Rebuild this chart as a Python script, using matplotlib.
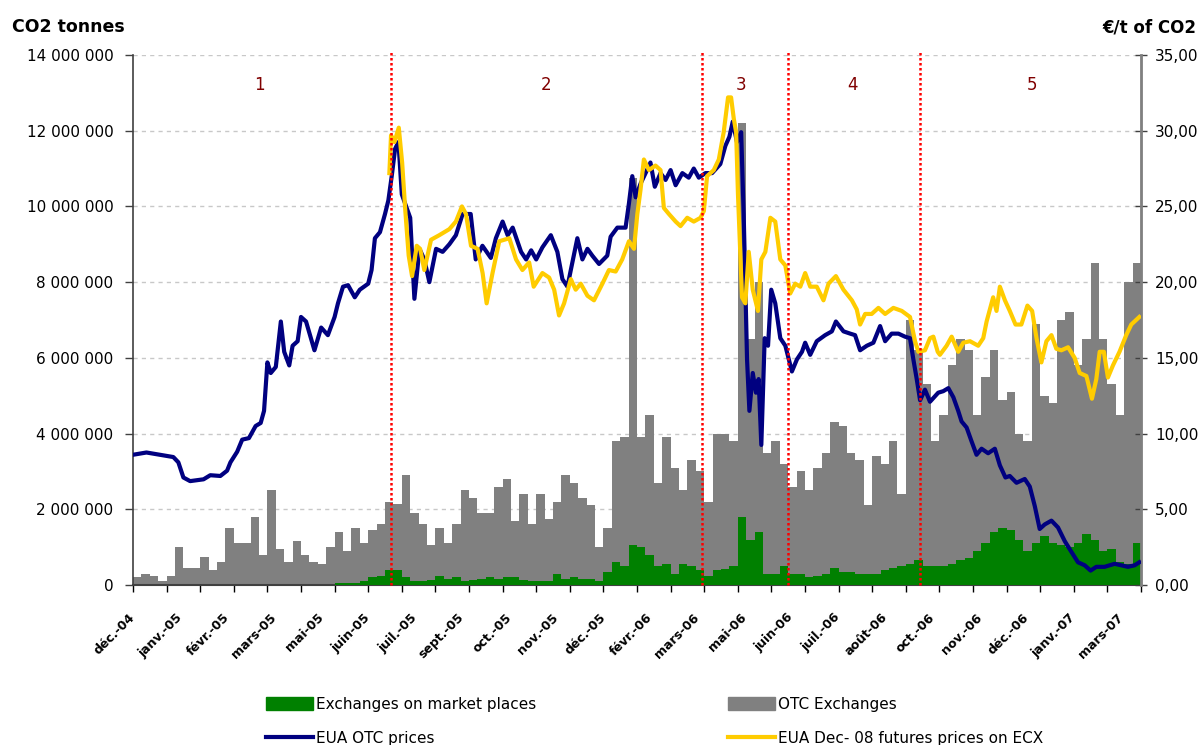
import numpy as np
import matplotlib
matplotlib.use("Agg")
import matplotlib.pyplot as plt
from matplotlib.patches import Patch
from matplotlib.lines import Line2D
from matplotlib.ticker import FuncFormatter, FixedLocator, MultipleLocator

# ---------------- data ----------------
# x axis: trading-day index (0 .. 600), Dec 2004 -> Mar 2007
n_days = 600
bin_days = 5  # weekly volume bins

# OTC exchanges, million tonnes per weekly bin
otc_volume_mt = [
    0.2, 0.3, 0.25, 0.1, 0.25, 1.0, 0.45, 0.45, 0.75, 0.4,
    0.6, 1.5, 1.1, 1.1, 1.8, 0.8, 2.5, 0.95, 0.6, 1.15,
    0.8, 0.6, 0.55, 1.0, 1.4, 0.9, 1.5, 1.1, 1.45, 1.6,
    2.2, 2.15, 2.9, 1.9, 1.6, 1.05, 1.5, 1.1, 1.6, 2.5,
    2.3, 1.9, 1.9, 2.6, 2.8, 1.7, 2.4, 1.6, 2.4, 1.75,
    2.2, 2.9, 2.7, 2.3, 2.1, 1.0, 1.5, 3.8, 3.9, 10.75,
    3.9, 4.5, 2.7, 3.9, 3.1, 2.5, 3.3, 3.0, 2.2, 4.0,
    4.0, 3.8, 12.2, 6.5, 8.0, 3.5, 3.8, 3.2, 2.6, 3.0,
    2.5, 3.1, 3.5, 4.3, 4.2, 3.5, 3.3, 2.1, 3.4, 3.2,
    3.8, 2.4, 7.0, 6.2, 5.3, 3.8, 4.5, 5.8, 6.5, 6.2,
    4.5, 5.5, 6.2, 4.9, 5.1, 4.0, 3.8, 6.9, 5.0, 4.8,
    7.0, 7.2, 5.8, 6.5, 8.5, 6.5, 5.3, 4.5, 8.0, 8.5,
]

# Exchanges on market places, million tonnes per weekly bin
market_volume_mt = [
    0, 0, 0, 0, 0, 0, 0, 0, 0, 0,
    0, 0, 0, 0, 0, 0, 0, 0, 0, 0,
    0, 0, 0, 0, 0.05, 0.05, 0.05, 0.1, 0.2, 0.25,
    0.4, 0.4, 0.2, 0.1, 0.1, 0.12, 0.25, 0.15, 0.2, 0.1,
    0.12, 0.15, 0.2, 0.15, 0.2, 0.2, 0.12, 0.1, 0.1, 0.1,
    0.3, 0.15, 0.2, 0.15, 0.15, 0.1, 0.35, 0.6, 0.5, 1.05,
    1.0, 0.8, 0.5, 0.55, 0.3, 0.55, 0.5, 0.4, 0.25, 0.4,
    0.42, 0.5, 1.8, 1.2, 1.4, 0.3, 0.3, 0.5, 0.3, 0.3,
    0.2, 0.25, 0.3, 0.45, 0.35, 0.35, 0.3, 0.3, 0.3, 0.4,
    0.45, 0.5, 0.55, 0.65, 0.5, 0.5, 0.5, 0.55, 0.65, 0.7,
    0.9, 1.1, 1.4, 1.5, 1.45, 1.2, 0.9, 1.1, 1.3, 1.1,
    1.05, 1.0, 1.1, 1.35, 1.2, 0.9, 0.95, 0.6, 0.55, 1.1,
]

# EUA OTC prices (EUR/t)
otc_price_day = [
    0, 8, 24, 27, 30, 34, 42, 46, 52, 56, 58, 62, 65, 69, 73, 76, 78, 80, 82, 85,
    88, 90, 93, 95, 98, 100, 103, 108, 112, 116, 120, 122, 125, 128, 132, 135, 140, 142, 144, 147,
    150, 152, 154, 156, 158, 160, 165, 167.5, 170.5, 173.4, 176.4, 180.4, 184.3, 188.3, 192.2, 196.2, 201, 204, 208, 213,
    216, 220, 223, 226, 231, 234, 237, 240, 243.7, 248.7, 252.6, 255.6, 258.6, 260.6, 264.5, 267.5, 270.5, 273.4, 277.4, 282.3,
    284.3, 288.3, 293.2, 295.2, 297.2, 299.2, 302.1, 305.1, 308, 310.6, 314, 317, 320, 323, 327, 330.8, 333.8, 336.8, 340.7, 344.7,
    349.6, 352.6, 355, 357, 359.5, 362, 363.5, 365.5, 366.9, 368.9, 370.8, 372.4, 374, 376, 378, 379.9, 382.3, 385.3, 388.3, 392.2,
    395.2, 398.2, 400.1, 403.1, 407, 412, 416, 418.4, 422.9, 426.9, 429.8, 432.8, 436.8, 440.7, 444.7, 447.7, 451.6, 455.6, 459.5, 462.5,
    464.5, 466.5, 468.5, 471.4, 474.4, 479.3, 482.3, 485.3, 488.3, 491.2, 493.2, 496.2, 499.1, 502.1, 505.1, 509, 513, 516, 519.3, 521.9,
    525.9, 530.8, 533.8, 536.8, 539.7, 542.7, 546.7, 550.6, 554.6, 558.5, 562.5, 566.5, 570, 573.4, 578.3, 584.3, 588.2, 592.2, 596.2, 599,
]
otc_price = [
    8.6, 8.75, 8.45, 8.1, 7.1, 6.86, 6.98, 7.25, 7.2, 7.55, 8.1, 8.8, 9.6, 9.7, 10.5, 10.7, 11.5, 14.7, 14.0, 14.4,
    17.4, 15.4, 14.5, 15.8, 16.1, 17.7, 17.4, 15.5, 17.0, 16.5, 17.7, 18.6, 19.7, 19.8, 19.0, 19.5, 19.9, 20.8, 22.9, 23.3,
    24.5, 25.4, 27.0, 28.8, 29.25, 25.8, 24.25, 18.9, 22.2, 21.5, 20.0, 22.2, 22.0, 22.5, 23.1, 24.5, 24.5, 21.5, 22.4, 21.6,
    22.9, 24.0, 23.1, 23.6, 22.0, 21.5, 22.1, 21.5, 22.3, 23.1, 22.0, 20.2, 19.7, 20.8, 22.9, 21.5, 22.2, 21.75, 21.2, 21.75,
    23.0, 23.6, 23.6, 25.2, 27.0, 25.6, 26.5, 27.2, 27.9, 26.3, 27.2, 26.75, 27.4, 26.4, 27.2, 26.9, 27.5, 26.9, 27.2, 27.2,
    27.8, 29.0, 29.6, 30.6, 29.25, 29.9, 24.5, 14.9, 11.5, 14.0, 12.7, 13.6, 9.25, 16.3, 15.8, 19.5, 18.6, 16.3, 15.8, 14.1,
    14.9, 15.4, 16.0, 15.2, 16.1, 16.5, 16.75, 17.4, 16.75, 16.6, 16.5, 15.5, 15.8, 16.0, 17.1, 16.1, 16.6, 16.6, 16.4, 16.3,
    14.9, 13.6, 12.2, 12.9, 12.1, 12.7, 12.8, 13.0, 12.4, 11.5, 10.8, 10.4, 9.5, 8.6, 9.0, 8.7, 9.0, 7.9, 7.1, 7.2,
    6.75, 7.0, 6.5, 5.2, 3.7, 4.0, 4.25, 3.8, 2.9, 2.2, 1.5, 1.3, 0.95, 1.2, 1.2, 1.4, 1.3, 1.2, 1.3, 1.5,
]

# EUA Dec-08 futures prices on ECX (EUR/t)
ecx_price_day = [
    152.6, 153.6, 155.6, 158.2, 160.2, 162.1, 164.1, 166.1, 168.9, 170.9, 173.4, 177.4, 182.3, 188.3, 192.2, 195.8, 198.2, 201.2, 205.1, 208.1,
    210.5, 214, 218, 224, 228, 231.8, 235.8, 238.5, 243.7, 247.7, 250.7, 253.6, 256.6, 260.6, 263.5, 266.5, 270.5, 274.4, 279.4, 283.3,
    287.3, 291.2, 295.2, 298.2, 300.2, 302.1, 304.1, 307.1, 311, 314, 316, 319, 323, 325.9, 329.9, 333.8, 337.8, 339.8, 341.7, 345.7,
    348.7, 351.6, 354.2, 356, 357.6, 359, 360.1, 362.5, 364.5, 366.5, 368.9, 372, 374, 376.4, 379.4, 382.3, 385.3, 388.3, 391.2, 394.2,
    397.2, 400.1, 403.1, 407, 411, 414, 418.4, 422.9, 427.9, 430.8, 432.8, 435.8, 439.7, 443.7, 447.7, 452.6, 457.6, 462.5, 465.5, 467.5,
    471.4, 474.4, 476.4, 479, 480.3, 484.3, 487.3, 491.2, 494.2, 498.2, 503.1, 506.1, 508.1, 512, 514, 516, 519, 521.9, 525.3, 528.8,
    532.4, 535.2, 537.8, 540.7, 543.7, 546.7, 549.6, 552.6, 556.6, 560.5, 563.5, 567.5, 570.8, 573.4, 575.4, 577.9, 580.3, 583.3, 587.2, 591.2,
    594.2, 599,
]
ecx_price = [
    27.2, 29.7, 29.25, 30.2, 27.9, 24.7, 21.75, 20.4, 22.4, 22.2, 20.8, 22.8, 23.1, 23.5, 24.0, 25.0, 24.5, 22.4, 22.2, 20.6,
    18.6, 20.6, 22.7, 22.9, 21.5, 20.8, 21.3, 19.7, 20.6, 20.3, 19.5, 17.8, 18.6, 20.2, 19.5, 19.9, 19.1, 18.8, 19.9, 20.8,
    20.7, 21.5, 22.7, 22.2, 24.5, 26.1, 28.1, 27.4, 27.7, 27.4, 24.9, 24.5, 24.0, 23.7, 24.25, 24.0, 24.25, 24.7, 27.0, 27.4,
    28.1, 29.9, 32.2, 32.2, 30.8, 29.9, 25.8, 19.0, 18.6, 22.0, 19.5, 18.1, 21.5, 22.0, 24.25, 24.0, 21.5, 21.1, 19.25, 19.9,
    19.7, 20.6, 19.7, 19.7, 18.8, 19.9, 20.4, 19.5, 18.8, 18.2, 17.2, 17.9, 17.9, 18.3, 17.9, 18.3, 18.1, 17.7, 16.1, 15.4,
    15.5, 16.3, 16.4, 15.4, 15.2, 15.8, 16.4, 15.4, 16.0, 16.1, 15.8, 16.3, 17.4, 19.0, 18.1, 19.7, 18.8, 18.1, 17.2, 17.2,
    18.45, 18.1, 16.3, 14.7, 16.1, 16.5, 15.6, 15.5, 15.7, 15.0, 14.0, 13.8, 12.3, 13.6, 15.4, 15.4, 13.7, 14.5, 15.4, 16.5,
    17.2, 17.7,
]

tick_labels = ["déc.-04", "janv.-05", "févr.-05", "mars-05", "mai-05", "juin-05",
               "juil.-05", "sept.-05", "oct.-05", "nov.-05", "déc.-05", "févr.-06",
               "mars-06", "mai-06", "juin-06", "juil.-06", "août-06", "oct.-06",
               "nov.-06", "déc.-06", "janv.-07", "mars-07"]
label_step = 28
tick_step = 20

phase_bounds = [153.3, 338.6, 389.7, 468.7]
phase_names = ["1", "2", "3", "4", "5"]
phase_label_x = [75, 246, 362, 428, 535]

# ---------------- styling ----------------
GRAY = "#808080"
GREEN = "#008000"
NAVY = "#000080"
YELLOW = "#FFCC00"

plt.rcParams["font.family"] = ["DejaVu Sans"]

fig = plt.figure(figsize=(12.02, 7.45), dpi=100)
ax = fig.add_axes([133 / 1202, 1 - 585 / 745, (1141 - 133) / 1202, 530 / 745])
ax2 = ax.twinx()

# volumes (left axis)
edges = np.arange(0, len(otc_volume_mt) * bin_days + 1, bin_days)
otc_v = np.array(otc_volume_mt + [otc_volume_mt[-1]]) * 1e6
mkt_v = np.array(market_volume_mt + [market_volume_mt[-1]]) * 1e6
ax.fill_between(edges, otc_v, step="post", color=GRAY, linewidth=0, zorder=2)
ax.fill_between(edges, mkt_v, step="post", color=GREEN, linewidth=0, zorder=3)

ax.set_xlim(0, n_days)
ax.set_ylim(0, 14e6)
ax.yaxis.set_major_locator(MultipleLocator(2e6))
ax.yaxis.set_major_formatter(FuncFormatter(lambda v, p: f"{int(round(v)):,}".replace(",", " ")))
ax.grid(axis="y", color="#C8C8C8", linestyle=(0, (3, 3)), linewidth=1.0, zorder=0)
ax.set_axisbelow(True)

# prices (right axis)
ax2.plot(otc_price_day, otc_price, color=NAVY, linewidth=3.0, solid_joinstyle="round", zorder=4)
ax2.plot(ecx_price_day, ecx_price, color=YELLOW, linewidth=3.0, solid_joinstyle="round", zorder=5)
ax2.set_ylim(0, 35)
ax2.yaxis.set_major_locator(MultipleLocator(5))
ax2.yaxis.set_major_formatter(FuncFormatter(lambda v, p: f"{v:.2f}".replace(".", ",")))

for xb in phase_bounds:
    ax2.axvline(xb, ymin=0, ymax=1.005, color="#FF0000", linestyle=(0, (1, 1)), linewidth=1.8,
                zorder=6, clip_on=False)

for name, xl in zip(phase_names, phase_label_x):
    ax2.text(xl, 0.943, name, transform=ax2.get_xaxis_transform(), ha="center", va="center",
             fontsize=12, color="#800000")

# x axis ticks: marks every tick_step, labels every label_step
ax.xaxis.remove_overlapping_locs = False
ax.xaxis.set_major_locator(FixedLocator(np.arange(0, n_days + 1, tick_step)))
ax.xaxis.set_major_formatter(FuncFormatter(lambda v, p: ""))
lab_pos = np.arange(len(tick_labels)) * label_step
ax.set_xticks(lab_pos, minor=True)
ax.set_xticklabels(tick_labels, minor=True, rotation=45, ha="right", va="center",
                   rotation_mode="anchor", fontsize=9, fontweight="bold")
ax.tick_params(axis="x", which="major", direction="out", length=5, width=1, color="#000000")
ax.tick_params(axis="x", which="minor", length=0, pad=22)

ax.tick_params(axis="y", which="major", direction="out", length=6, width=1, labelsize=11, pad=8,
               color="#404040")
ax2.tick_params(axis="y", which="major", direction="inout", length=8, width=1, labelsize=11, pad=6,
                color="#404040")

for a in (ax, ax2):
    a.spines["top"].set_visible(False)
ax.spines["left"].set_color("#404040")
ax.spines["left"].set_linewidth(1.2)
ax.spines["bottom"].set_color("#404040")
ax.spines["bottom"].set_linewidth(1.5)
ax2.spines["right"].set_color(GRAY)
ax2.spines["right"].set_linewidth(2.0)
ax2.spines["left"].set_visible(False)
ax2.spines["bottom"].set_visible(False)

# axis titles
fig.text(12 / 1202, 1 - 27 / 745, "CO2 tonnes", ha="left", va="center", fontsize=12.5, fontweight="bold")
fig.text(1196 / 1202, 1 - 27 / 745, "€/t of CO2", ha="right", va="center", fontsize=12, fontweight="bold")

# legend
handles = [
    Patch(facecolor=GREEN, edgecolor=GREEN),
    Line2D([0], [0], color=NAVY, linewidth=3),
    Patch(facecolor=GRAY, edgecolor=GRAY),
    Line2D([0], [0], color=YELLOW, linewidth=3),
]
labels = ["Exchanges on market places", "EUA OTC prices", "OTC Exchanges",
          "EUA Dec- 08 futures prices on ECX"]
fig.legend(handles, labels, ncol=2, loc="upper left", bbox_to_anchor=(266 / 1202, 1 - 697 / 745),
           frameon=False, fontsize=11, handlelength=3.1, handleheight=0.9, handletextpad=0.2,
           columnspacing=12.5, labelspacing=1.25, borderpad=0, borderaxespad=0)

fig.savefig("out.png", dpi=100)
